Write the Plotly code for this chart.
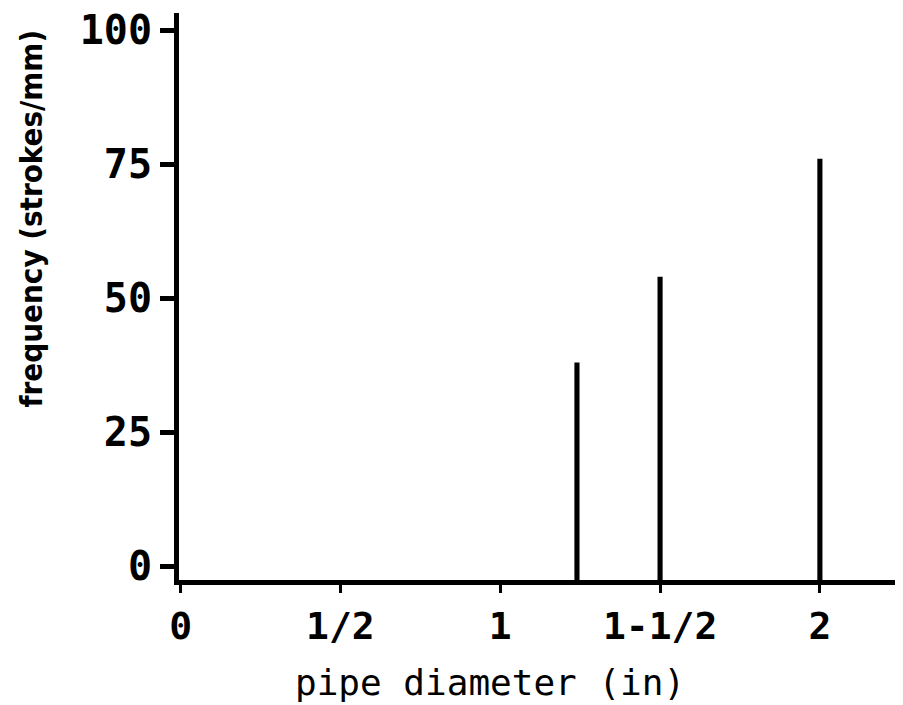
import plotly.graph_objects as go

# data
diameters_in = [1.24, 1.5, 2.0]
frequency = [38, 54, 76]
x_tick_vals = [0, 0.5, 1, 1.5, 2]
x_tick_text = ["0", "1/2", "1", "1-1/2", "2"]
y_tick_vals = [0, 25, 50, 75, 100]
y_tick_text = ["0", "25", "50", "75", "100"]

Y_MIN = -2.6
Y_MAX = 103.2

fig = go.Figure()
fig.add_trace(go.Bar(
    x=diameters_in,
    y=[v - Y_MIN for v in frequency],
    base=Y_MIN,
    width=0.016,
    marker=dict(color="black", line=dict(width=0)),
    hoverinfo="skip",
))

tick_font = dict(family="DejaVu Sans Mono", size=40, color="black", weight="bold")

fig.update_layout(
    width=895, height=697,
    margin=dict(l=171, r=0, t=5, b=125),
    paper_bgcolor="white", plot_bgcolor="white",
    showlegend=False,
    xaxis=dict(
        range=[-0.005, 2.26],
        tickvals=x_tick_vals, ticktext=x_tick_text,
        ticks="outside", ticklen=8, tickwidth=3, tickcolor="black",
        showline=True, linecolor="black", linewidth=5,
        showgrid=False, zeroline=False,
        ticklabeloverflow="allow",
        tickfont=dict(family="DejaVu Sans Mono", size=38, color="black", weight="bold"),
    ),
    yaxis=dict(
        range=[Y_MIN, Y_MAX],
        tickvals=y_tick_vals, ticktext=y_tick_text,
        ticks="outside", ticklen=14, tickwidth=5, tickcolor="black",
        showline=True, linecolor="black", linewidth=5,
        showgrid=False, zeroline=False,
        ticklabeloverflow="allow",
        tickfont=tick_font,
    ),
    annotations=[
        dict(text="frequency (strokes/mm)", textangle=-90,
             xref="paper", yref="paper", x=-0.204, y=0.638,
             xanchor="center", yanchor="middle", showarrow=False,
             font=dict(family="DejaVu Sans Condensed", size=31, color="black", weight="bold")),
        dict(text="pipe diameter (in)",
             xref="paper", yref="paper", x=0.43, y=-0.18,
             xanchor="center", yanchor="middle", showarrow=False,
             font=dict(family="DejaVu Sans Mono", size=36, color="black")),
    ],
)

fig.write_html("out.html")
